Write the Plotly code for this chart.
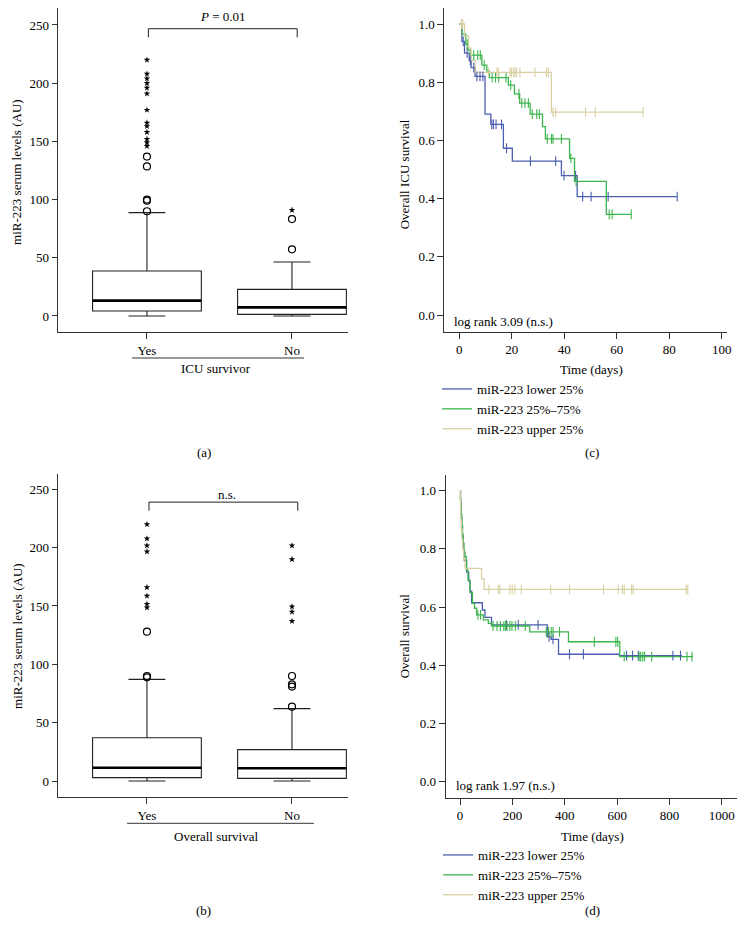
import plotly.graph_objects as go

# ---------------- data ----------------
groups = ["Yes", "No"]

# (a) ICU survivor box plots
a_q1 = [4.3, 1.4]
a_median = [13.2, 7.4]
a_q3 = [38.7, 22.9]
a_low = [0.0, 0.0]
a_high = [88.8, 46.4]
a_yes_circles = [137, 128.5, 100, 99, 90]
a_yes_stars = [220, 208, 204, 200, 196, 191, 177, 166, 163, 158, 152, 149, 146]
a_no_circles = [83.3, 57.3]
a_no_stars = [91]

# (b) Overall survival box plots
b_q1 = [2.9, 2.3]
b_median = [11.4, 10.9]
b_q3 = [37.1, 26.9]
b_low = [0.0, 0.0]
b_high = [87.1, 62.0]
b_yes_circles = [128, 90, 88.9]
b_yes_stars = [220, 207.7, 201.7, 196.6, 166, 158.6, 151.7, 148.6]
b_no_circles = [90, 82.9, 80.9, 63.7]
b_no_stars = [201.7, 190, 149.4, 145, 137]

# (c) ICU survival Kaplan-Meier
c_lower_t = [0, 1, 2, 3.8, 4.5, 6, 9.8, 12, 16.8, 20.2, 38.9, 44.9, 83]
c_lower_s = [1.0, 0.94, 0.90, 0.874, 0.85, 0.82, 0.69, 0.655, 0.573, 0.529, 0.479, 0.407, 0.407]
c_lower_cens = [1.5, 3, 4.2, 5.5, 6.7, 7.9, 9.0, 12.4, 13.0, 14.0, 16.1, 18, 27.1, 36.7,
                39.9, 44.3, 47, 50.2, 56.7, 83]
c_mid_t = [0, 1.0, 2.5, 3.5, 4.2, 8.6, 10.5, 11.4, 18.7, 21, 23, 27, 31.7, 32.8, 42, 43.9, 56, 65.5]
c_mid_s = [1.0, 0.965, 0.93, 0.91, 0.893, 0.859, 0.838, 0.816, 0.79, 0.76, 0.728, 0.69, 0.647,
           0.605, 0.538, 0.459, 0.346, 0.346]
c_mid_cens = [3, 5.5, 7, 8, 9.5, 12.5, 13.8, 15, 17.8, 19.6, 22.7, 23.8, 25, 26.3, 27.8, 29.5,
              30.5, 33.5, 35.1, 35.7, 38.9, 42.5, 44.5, 57.1, 58.2, 65.5]
c_upper_t = [0, 2, 3.5, 4.5, 6, 35.1, 70.2]
c_upper_s = [1.0, 0.958, 0.917, 0.875, 0.834, 0.697, 0.697]
c_upper_cens = [0.8, 1.3, 11.1, 14.3, 14.9, 19.3, 19.9, 20.6, 21.2, 21.8, 23.1, 28.8, 33.2,
                33.9, 35.7, 36.7, 48.1, 51.8, 70.0]

# (d) Overall survival Kaplan-Meier
d_lower_t = [0, 2, 4, 6, 9, 12, 16, 25, 33, 38, 44, 85, 95, 120, 333, 348, 376, 608, 848]
d_lower_s = [1.0, 0.96, 0.92, 0.88, 0.84, 0.80, 0.76, 0.72, 0.69, 0.655, 0.615, 0.59, 0.565,
             0.539, 0.498, 0.489, 0.438, 0.433, 0.433]
d_lower_cens = [177, 222, 298, 340, 355, 418, 471, 636, 659, 681, 813, 842]
d_mid_t = [0, 1, 3, 5, 7, 9, 12, 15, 19, 24, 30, 38, 47, 55, 63, 89, 108, 120, 266, 414, 610, 890]
d_mid_s = [1.0, 0.97, 0.94, 0.91, 0.88, 0.85, 0.82, 0.79, 0.773, 0.727, 0.693, 0.65, 0.613,
           0.596, 0.573, 0.556, 0.544, 0.535, 0.515, 0.481, 0.43, 0.43]
d_mid_cens = [68, 78, 126, 141, 154, 167, 173, 179, 190, 198, 211, 249, 329, 338, 348, 355,
              380, 513, 595, 602, 627, 684, 690, 698, 705, 732, 867, 886]
d_upper_t = [0, 1, 2, 3, 5, 7, 10, 14, 19, 82, 92, 870]
d_upper_s = [1.0, 0.967, 0.933, 0.9, 0.867, 0.833, 0.8, 0.767, 0.733, 0.697, 0.661, 0.661]
d_upper_cens = [110, 146, 152, 190, 199, 209, 234, 346, 418, 548, 604, 620, 627, 655, 661,
                864, 870]

km_names = ["miR-223 lower 25%", "miR-223 25%\u201375%", "miR-223 upper 25%"]
km_colors = ["#4a5fae", "#3db54e", "#d8d0a2"]

# ---------------- helpers ----------------
W, H = 750, 932
FONT = "Liberation Serif, Times New Roman, serif"
INK = "#222222"


def px_x(p):
    return p / W


def px_y(p):
    return 1 - p / H


def step_value(ts, ss, t):
    v = ss[0]
    for ti, si in zip(ts, ss):
        if ti <= t:
            v = si
    return v


fig = go.Figure()

BOX_W = 0.75


def add_box_panel(xa, ya, q1, med, q3, lo, hi, yes_c, yes_s, no_c, no_s):
    for i in range(2):
        fig.add_trace(go.Box(
            x=[i], q1=[q1[i]], median=[med[i]], q3=[q3[i]],
            lowerfence=[lo[i]], upperfence=[hi[i]],
            width=BOX_W, whiskerwidth=0.34, boxpoints=False,
            fillcolor="white", line=dict(color=INK, width=1.1),
            xaxis=xa, yaxis=ya, showlegend=False, hoverinfo="skip"))
        fig.add_trace(go.Scatter(
            x=[i - BOX_W / 2, i + BOX_W / 2], y=[med[i], med[i]], mode="lines",
            line=dict(color="black", width=2.6), xaxis=xa, yaxis=ya,
            showlegend=False, hoverinfo="skip"))
    for i, (circ, star) in enumerate([(yes_c, yes_s), (no_c, no_s)]):
        fig.add_trace(go.Scatter(
            x=[i] * len(circ), y=circ, mode="markers",
            marker=dict(symbol="circle-open", size=7, color="black", line=dict(width=1.2)),
            xaxis=xa, yaxis=ya, showlegend=False, hoverinfo="skip"))
        fig.add_trace(go.Scatter(
            x=[i] * len(star), y=star, mode="markers",
            marker=dict(symbol="star", size=5, color="black"),
            xaxis=xa, yaxis=ya, showlegend=False, hoverinfo="skip"))


add_box_panel("x", "y", a_q1, a_median, a_q3, a_low, a_high,
              a_yes_circles, a_yes_stars, a_no_circles, a_no_stars)
add_box_panel("x3", "y3", b_q1, b_median, b_q3, b_low, b_high,
              b_yes_circles, b_yes_stars, b_no_circles, b_no_stars)


def add_km_panel(xa, ya, curves, legend):
    for (ts, ss, cens), name, col in zip(curves, km_names, km_colors):
        fig.add_trace(go.Scatter(
            x=ts, y=ss, mode="lines", line=dict(color=col, width=1.3, shape="hv"),
            name=name, legend=legend, xaxis=xa, yaxis=ya, hoverinfo="skip"))
    for (ts, ss, cens), col in zip(curves, km_colors):
        fig.add_trace(go.Scatter(
            x=cens, y=[step_value(ts, ss, c) for c in cens], mode="markers",
            marker=dict(symbol="line-ns", size=7, line=dict(color=col, width=1.1)),
            xaxis=xa, yaxis=ya, showlegend=False, hoverinfo="skip"))


add_km_panel("x2", "y2",
             [(c_lower_t, c_lower_s, c_lower_cens), (c_mid_t, c_mid_s, c_mid_cens),
              (c_upper_t, c_upper_s, c_upper_cens)], "legend")
add_km_panel("x4", "y4",
             [(d_lower_t, d_lower_s, d_lower_cens), (d_mid_t, d_mid_s, d_mid_cens),
              (d_upper_t, d_upper_s, d_upper_cens)], "legend2")

# ---------------- axes ----------------
axis_common = dict(showline=True, linecolor="#333333", linewidth=1, ticks="outside",
                   ticklen=6, tickwidth=1, tickcolor="#333333", showgrid=False,
                   zeroline=False, tickfont=dict(family=FONT, size=13, color="black"),
                   fixedrange=True)

fig.update_layout(
    xaxis=dict(axis_common, domain=[px_x(58), px_x(350)], range=[-0.616, 1.384],
               tickvals=[0, 1], ticktext=groups, anchor="y"),
    yaxis=dict(axis_common, domain=[px_y(332), px_y(8)], range=[-13.75, 264.6],
               tickvals=[0, 50, 100, 150, 200, 250], anchor="x", ticklen=5),
    xaxis3=dict(axis_common, domain=[px_x(58), px_x(350)], range=[-0.616, 1.384],
                tickvals=[0, 1], ticktext=groups, anchor="y3"),
    yaxis3=dict(axis_common, domain=[px_y(797), px_y(474)], range=[-13.7, 263.1],
                tickvals=[0, 50, 100, 150, 200, 250], anchor="x3", ticklen=5),
    xaxis2=dict(axis_common, domain=[px_x(447.3), px_x(731.7)], range=[-5.7, 101.9],
                tickvals=[0, 20, 40, 60, 80, 100], anchor="y2"),
    yaxis2=dict(axis_common, domain=[px_y(331.7), px_y(8)], range=[-0.0574, 1.055],
                tickvals=[0, 0.2, 0.4, 0.6, 0.8, 1.0], tickformat=".1f", anchor="x2"),
    xaxis4=dict(axis_common, domain=[px_x(448.7), px_x(741.7)], range=[-55, 1057],
                tickvals=[0, 200, 400, 600, 800, 1000], anchor="y4"),
    yaxis4=dict(axis_common, domain=[px_y(797.7), px_y(475)], range=[-0.055, 1.054],
                tickvals=[0, 0.2, 0.4, 0.6, 0.8, 1.0], tickformat=".1f", anchor="x4"),
)

# ---------------- decorations ----------------
shapes = []
shapes.append(dict(type="path", xref="x", yref="y",
                   path="M 0.01,239.4 L 0.01,246.8 L 1.036,246.8 L 1.036,239.4",
                   line=dict(color=INK, width=1)))
shapes.append(dict(type="path", xref="x3", yref="y3",
                   path="M 0.014,231.6 L 0.014,239 L 1.04,239 L 1.04,231.6",
                   line=dict(color=INK, width=1)))
shapes.append(dict(type="line", xref="paper", yref="paper", x0=px_x(133), x1=px_x(306),
                   y0=px_y(358), y1=px_y(358), line=dict(color="#333333", width=1)))
shapes.append(dict(type="line", xref="paper", yref="paper", x0=px_x(128), x1=px_x(316),
                   y0=px_y(823.3), y1=px_y(823.3), line=dict(color="#333333", width=1)))

ann = []


def text(x, y, s, angle=0, xanchor="center", size=13):
    ann.append(dict(x=px_x(x), y=px_y(y), xref="paper", yref="paper", text=s,
                    showarrow=False, textangle=angle, xanchor=xanchor, yanchor="middle",
                    font=dict(family=FONT, size=size, color="black")))


text(224, 17, "<i>P</i> = 0.01")
text(229, 494, "n.s.")
text(17, 172, "miR-223 serum levels (AU)", angle=-90)
text(17, 636, "miR-223 serum levels (AU)", angle=-90)
text(407, 174, "Overall ICU survival", angle=-90)
text(407, 636, "Overall survival", angle=-90)
text(217, 368, "ICU survivor")
text(218, 836, "Overall survival")
text(595, 369, "Time (days)")
text(596, 836, "Time (days)")
text(455, 321, "log rank 3.09 (n.s.)", xanchor="left")
text(457, 785, "log rank 1.97 (n.s.)", xanchor="left")
text(205, 452, "(a)")
text(596, 452, "(c)")
text(205, 910, "(b)")
text(596, 910, "(d)")

legend_common = dict(font=dict(family=FONT, size=13, color="black"), bgcolor="rgba(0,0,0,0)",
                     xanchor="left", yanchor="top", itemwidth=30, tracegroupgap=0)

fig.update_layout(
    width=W, height=H, margin=dict(l=0, r=0, t=0, b=0),
    paper_bgcolor="white", plot_bgcolor="white",
    font=dict(family=FONT, size=13, color="black"),
    shapes=shapes, annotations=ann,
    legend=dict(legend_common, x=px_x(440), y=px_y(374)),
    legend2=dict(legend_common, x=px_x(441), y=px_y(840)),
    showlegend=True,
)

fig.write_html("out.html", config={"displayModeBar": False},
               post_script="document.body.style.margin='0px';")
